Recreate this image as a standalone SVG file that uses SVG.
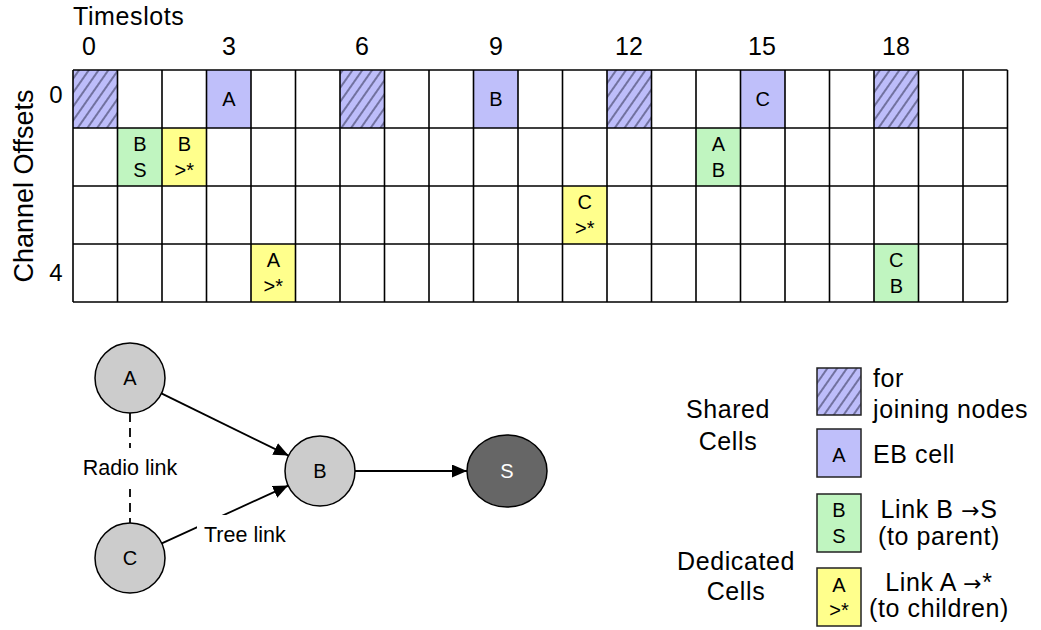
<svg xmlns="http://www.w3.org/2000/svg" width="1041" height="630" viewBox="0 0 1041 630">
<defs>
<pattern id="hatch" patternUnits="userSpaceOnUse" width="8" height="8" patternTransform="rotate(35)">
<rect x="0" y="0" width="8" height="8" fill="#BDBDFA"/>
<line x1="1" y1="0" x2="1" y2="8" stroke="#333355" stroke-width="1.1"/>
</pattern>
<marker id="arr" markerUnits="userSpaceOnUse" markerWidth="16" markerHeight="14" refX="15" refY="6.5" orient="auto">
<path d="M0,0 L15,6.5 L0,13 Z" fill="#000"/>
</marker>
<style>
text{font-family:"Liberation Sans",Arial,sans-serif;fill:#000}
.t{font-size:25px;letter-spacing:0.6px}
.num{font-size:25px;text-anchor:middle}
.cl{font-size:20px;text-anchor:middle}
.hat{fill:url(#hatch)}
.pur{fill:#BFBFFA}
.grn{fill:#C0F5C0}
.yel{fill:#FFFF8C}
.grid{stroke:#000;stroke-width:1.6;fill:none}
.node{fill:#CCCCCC;stroke:#000;stroke-width:1.5}
.edge{stroke:#000;stroke-width:1.8;fill:none}
.lab{font-size:21.5px}
.lg{font-size:25px;letter-spacing:0.6px}
.lgc{font-size:25px;letter-spacing:0.6px;text-anchor:middle}
.ar{font-family:"DejaVu Sans",sans-serif;font-size:22px}
.box{stroke:#222;stroke-width:1.5}
</style>
</defs>
<rect width="1041" height="630" fill="#fff"/>

<g id="axes">
<text class="t" x="73" y="25">Timeslots</text>
<text class="num" x="89" y="55">0</text>
<text class="num" x="229" y="55">3</text>
<text class="num" x="362" y="55">6</text>
<text class="num" x="496" y="55">9</text>
<text class="num" x="629" y="55">12</text>
<text class="num" x="762" y="55">15</text>
<text class="num" x="896" y="55">18</text>
<text font-size="27" text-anchor="middle" transform="translate(33,186) rotate(-90)">Channel Offsets</text>
<text font-size="24" text-anchor="middle" x="56" y="103">0</text>
<text font-size="24" text-anchor="middle" x="56" y="281">4</text>
</g>

<g id="cells">
<rect class="hat" x="73" y="70" width="44.5" height="58"/>
<rect class="hat" x="340" y="70" width="44.5" height="58"/>
<rect class="hat" x="607" y="70" width="44.5" height="58"/>
<rect class="hat" x="874" y="70" width="44.5" height="58"/>
<rect class="pur" x="206.5" y="70" width="44.5" height="58"/>
<rect class="pur" x="473.5" y="70" width="44.5" height="58"/>
<rect class="pur" x="740.5" y="70" width="44.5" height="58"/>
<rect class="grn" x="117.5" y="128" width="44.5" height="58"/>
<rect class="yel" x="162" y="128" width="44.5" height="58"/>
<rect class="grn" x="696" y="128" width="44.5" height="58"/>
<rect class="yel" x="562.5" y="186" width="44.5" height="58"/>
<rect class="yel" x="251" y="244" width="44.5" height="58"/>
<rect class="grn" x="874" y="244" width="44.5" height="58"/>
<text class="cl" x="228.8" y="106">A</text>
<text class="cl" x="495.8" y="106">B</text>
<text class="cl" x="762.8" y="106">C</text>
<text class="cl" x="139.8" y="151">B</text>
<text class="cl" x="139.8" y="177">S</text>
<text class="cl" x="184.3" y="151">B</text>
<text class="cl" x="184.3" y="177">&gt;*</text>
<text class="cl" x="718.3" y="151">A</text>
<text class="cl" x="718.3" y="177">B</text>
<text class="cl" x="584.8" y="209">C</text>
<text class="cl" x="584.8" y="235">&gt;*</text>
<text class="cl" x="273.3" y="267">A</text>
<text class="cl" x="273.3" y="293">&gt;*</text>
<text class="cl" x="896.3" y="267">C</text>
<text class="cl" x="896.3" y="293">B</text>
</g>

<g id="grid">
<path class="grid" d="M73,70H1007.5M73,128H1007.5M73,186H1007.5M73,244H1007.5M73,302H1007.5"/>
<path class="grid" d="M73,70V302M117.5,70V302M162,70V302M206.5,70V302M251,70V302M295.5,70V302M340,70V302M384.5,70V302M429,70V302M473.5,70V302M518,70V302M562.5,70V302M607,70V302M651.5,70V302M696,70V302M740.5,70V302M785,70V302M829.5,70V302M874,70V302M918.5,70V302M963,70V302M1007.5,70V302"/>
</g>

<g id="connectors">
<line class="edge" x1="161.4" y1="393.4" x2="288.6" y2="455.6" marker-end="url(#arr)"/>
<line class="edge" x1="161.8" y1="543.4" x2="288.2" y2="485.6" marker-end="url(#arr)"/>
<line class="edge" x1="355" y1="471" x2="467" y2="471" marker-end="url(#arr)"/>
<line class="edge" x1="130" y1="413" x2="130" y2="523" stroke-dasharray="9,6" stroke-width="1.5"/>
<rect x="78" y="448" width="104" height="41" fill="#fff"/>
<text class="lab" x="130" y="475" text-anchor="middle">Radio link</text>
<rect x="197" y="515" width="95" height="35" fill="#fff"/>
<text class="lab" x="204" y="542">Tree link</text>
</g>

<g id="node-A">
<circle class="node" cx="130" cy="378" r="35"/>
<text class="cl" x="130" y="385">A</text>
</g>
<g id="node-C">
<circle class="node" cx="130" cy="558" r="35"/>
<text class="cl" x="130" y="565">C</text>
</g>
<g id="node-B">
<circle class="node" cx="320" cy="471" r="35"/>
<text class="cl" x="320" y="478">B</text>
</g>
<g id="node-S">
<ellipse cx="507" cy="471" rx="40" ry="36" fill="#666666" stroke="#000" stroke-width="1.5"/>
<text class="cl" x="507" y="478" style="fill:#fff">S</text>
</g>

<g id="legend">
<text class="lgc" x="728" y="418">Shared</text>
<text class="lgc" x="728" y="450">Cells</text>
<text class="lgc" x="736" y="570">Dedicated</text>
<text class="lgc" x="736" y="600">Cells</text>
<rect class="hat box" x="817" y="368" width="44" height="47"/>
<rect class="pur box" x="817" y="429" width="44" height="48"/>
<rect class="grn box" x="817" y="494" width="44" height="58"/>
<rect class="yel box" x="817" y="568" width="44" height="58"/>
<text class="cl" x="839" y="462">A</text>
<text class="cl" x="839" y="517">B</text>
<text class="cl" x="839" y="543">S</text>
<text class="cl" x="839" y="592">A</text>
<text class="cl" x="839" y="617">&gt;*</text>
<text class="lg" x="873" y="387">for</text>
<text class="lg" x="873" y="418">joining nodes</text>
<text class="lg" x="873" y="463">EB cell</text>
<text class="lgc" x="939" y="518">Link B <tspan class="ar">→</tspan>S</text>
<text class="lgc" x="939" y="545">(to parent)</text>
<text class="lgc" x="939" y="591">Link A <tspan class="ar">→</tspan>*</text>
<text class="lgc" x="939" y="617">(to children)</text>
</g>
</svg>
